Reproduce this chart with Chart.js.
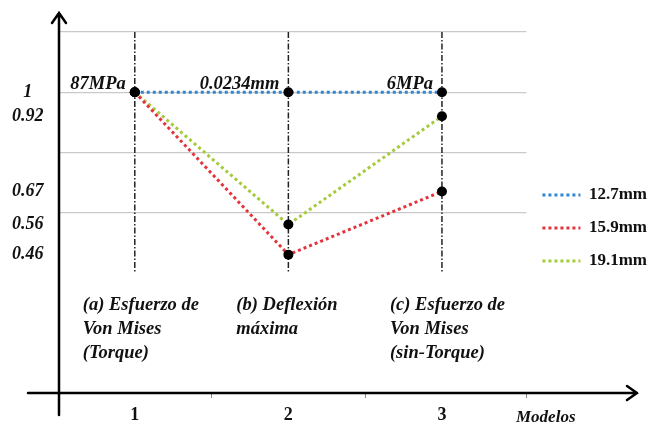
<!DOCTYPE html>
<html>
<head>
<meta charset="utf-8">
<script src="https://cdn.jsdelivr.net/npm/chart.js@4.4.1/dist/chart.umd.min.js"></script>
<style>
  html, body { margin: 0; padding: 0; background: #fff; }
  #wrap { width: 660px; height: 425px; }
</style>
</head>
<body>
<div id="wrap"><canvas id="myChart"></canvas></div>
<script>
// data
const modelos = [1, 2, 3];
const serie127 = [1, 1, 1];
const serie159 = [1, 0.46, 0.67];
const serie191 = [1, 0.56, 0.92];
const etiquetasY = [0.46, 0.56, 0.67, 0.92, 1];
const valoresRef = ['87MPa', '0.0234mm', '6MPa'];
const notasModelo = [
    ['(a) Esfuerzo de', 'Von Mises', '(Torque)'],
    ['(b) Deflexión', 'máxima'],
    ['(c) Esfuerzo de', 'Von Mises', '(sin-Torque)']
];
const nombresSeries = ['12.7mm', '15.9mm', '19.1mm'];
const coloresSeries = ['#2f86d2', '#e3343c', '#a3cb3a'];

const SERIF = '"Liberation Serif", "Times New Roman", serif';
const guiaArriba = 1.2;
const guiaAbajo = 0.4;

function puntos(valores) {
    return modelos.map((m, i) => ({x: m, y: valores[i]}));
}

const datasets = [serie127, serie159, serie191].map((vals, i) => ({
    label: nombresSeries[i],
    data: puntos(vals),
    borderColor: coloresSeries[i],
    backgroundColor: coloresSeries[i],
    borderWidth: 3,
    borderDash: [3, 3],
    pointRadius: 5,
    pointBackgroundColor: '#000',
    pointBorderColor: '#000',
    pointBorderWidth: 0,
    tension: 0,
    order: 1
}));

// vertical dash-dot guides at each model
modelos.forEach(m => {
    datasets.push({
        label: 'guia',
        data: [{x: m, y: guiaArriba}, {x: m, y: guiaAbajo}],
        borderColor: '#222',
        borderWidth: 1.5,
        borderDash: [6, 2, 1.5, 2],
        pointRadius: 0,
        order: 10
    });
});

// remove the automatic label margins so the plot area sits where we want it
function sinMargenes(s) {
    s.paddingTop = 0;
    s.paddingBottom = 0;
    s.paddingLeft = 0;
    s.paddingRight = 0;
}

// axes arrows + text annotations
const anotaciones = {
    id: 'anotaciones',
    afterDatasetsDraw(chart) {
        const ctx = chart.ctx;
        const xs = chart.scales.x;
        const ys = chart.scales.y;
        const area = chart.chartArea;
        ctx.save();
        ctx.fillStyle = '#111';
        ctx.textBaseline = 'alphabetic';
        // reference values above the top points
        ctx.font = 'italic bold 18.5px ' + SERIF;
        ctx.textAlign = 'right';
        modelos.forEach((m, i) => {
            ctx.fillText(valoresRef[i], xs.getPixelForValue(m) - 9, ys.getPixelForValue(serie127[i]) - 3);
        });
        // model descriptions
        ctx.textAlign = 'left';
        modelos.forEach((m, i) => {
            notasModelo[i].forEach((linea, k) => {
                ctx.fillText(linea, xs.getPixelForValue(m) - 52, area.bottom - 83 + k * 24);
            });
        });
        ctx.font = 'italic bold 17px ' + SERIF;
        ctx.fillText('Modelos', 516, 422);
        ctx.restore();
    },
    afterDraw(chart) {
        const ctx = chart.ctx;
        const area = chart.chartArea;
        ctx.save();
        ctx.strokeStyle = '#000';
        ctx.lineWidth = 2.5;
        ctx.lineCap = 'round';
        const x0 = area.left + 1;
        const y0 = area.bottom;
        // y axis
        ctx.beginPath();
        ctx.moveTo(x0, 415);
        ctx.lineTo(x0, 13);
        ctx.moveTo(x0 - 7, 23);
        ctx.lineTo(x0, 13);
        ctx.lineTo(x0 + 7, 23);
        ctx.stroke();
        // x axis
        ctx.beginPath();
        ctx.moveTo(28, y0);
        ctx.lineTo(637, y0);
        ctx.moveTo(627, y0 - 7);
        ctx.lineTo(637, y0);
        ctx.lineTo(627, y0 + 7);
        ctx.stroke();
        ctx.restore();
    }
};

const ctx = document.getElementById('myChart').getContext('2d');

const myChart = new Chart(ctx, {
    type: 'line',
    data: {datasets: datasets},
    options: {
        responsive: true,
        maintainAspectRatio: false,
        animation: false,
        layout: {padding: {top: 17, left: 12, right: 3, bottom: 0}},
        plugins: {
            tooltip: {enabled: false},
            legend: {
                position: 'right',
                maxWidth: 220,
                title: {display: true, text: '', font: {size: 10}, padding: 1},
                labels: {
                    usePointStyle: true,
                    pointStyle: 'line',
                    pointStyleWidth: 38,
                    padding: 16,
                    color: '#111',
                    font: {family: SERIF, size: 17, weight: 'bold'},
                    generateLabels: chart => nombresSeries.map((n, i) => ({
                        text: n,
                        datasetIndex: i,
                        strokeStyle: coloresSeries[i],
                        fillStyle: coloresSeries[i],
                        fontColor: '#111',
                        lineWidth: 3,
                        lineDash: [3, 3],
                        pointStyle: 'line',
                        hidden: false
                    }))
                }
            }
        },
        scales: {
            x: {
                type: 'linear',
                min: 0.5,
                max: 3.55,
                afterFit: s => { s.height = 32; sinMargenes(s); },
                border: {display: false},
                grid: {
                    drawOnChartArea: false,
                    tickLength: 5,
                    color: c => (c.tick && c.tick.value % 1 !== 0 && c.tick.value > 0.6) ? '#888' : 'rgba(0,0,0,0)'
                },
                ticks: {
                    stepSize: 0.5,
                    padding: 7,
                    color: '#111',
                    font: {family: SERIF, size: 18, weight: 'bold'},
                    callback: v => Number.isInteger(v) ? String(v) : ''
                }
            },
            y: {
                type: 'linear',
                position: 'left',
                min: 0,
                max: 1.25,
                afterFit: s => { s.width = 46; sinMargenes(s); },
                border: {display: false},
                grid: {display: false, drawTicks: false},
                afterBuildTicks: s => { s.ticks = etiquetasY.map(v => ({value: v})); },
                ticks: {
                    autoSkip: false,
                    padding: 14.5,
                    crossAlign: 'center',
                    color: '#111',
                    font: {family: SERIF, size: 18, weight: 'bold', style: 'italic'},
                    callback: v => String(v)
                }
            },
            yg: {
                type: 'linear',
                position: 'left',
                min: 0,
                max: 1.25,
                afterFit: s => { s.width = 0; sinMargenes(s); },
                border: {display: false},
                ticks: {display: false, stepSize: 0.2},
                grid: {
                    drawTicks: false,
                    lineWidth: 1.2,
                    color: c => (c.tick && c.tick.value > 0.59 && c.tick.value < 1.21) ? '#c9c9c9' : 'rgba(0,0,0,0)'
                }
            }
        }
    },
    plugins: [anotaciones]
});
</script>
</body>
</html>
